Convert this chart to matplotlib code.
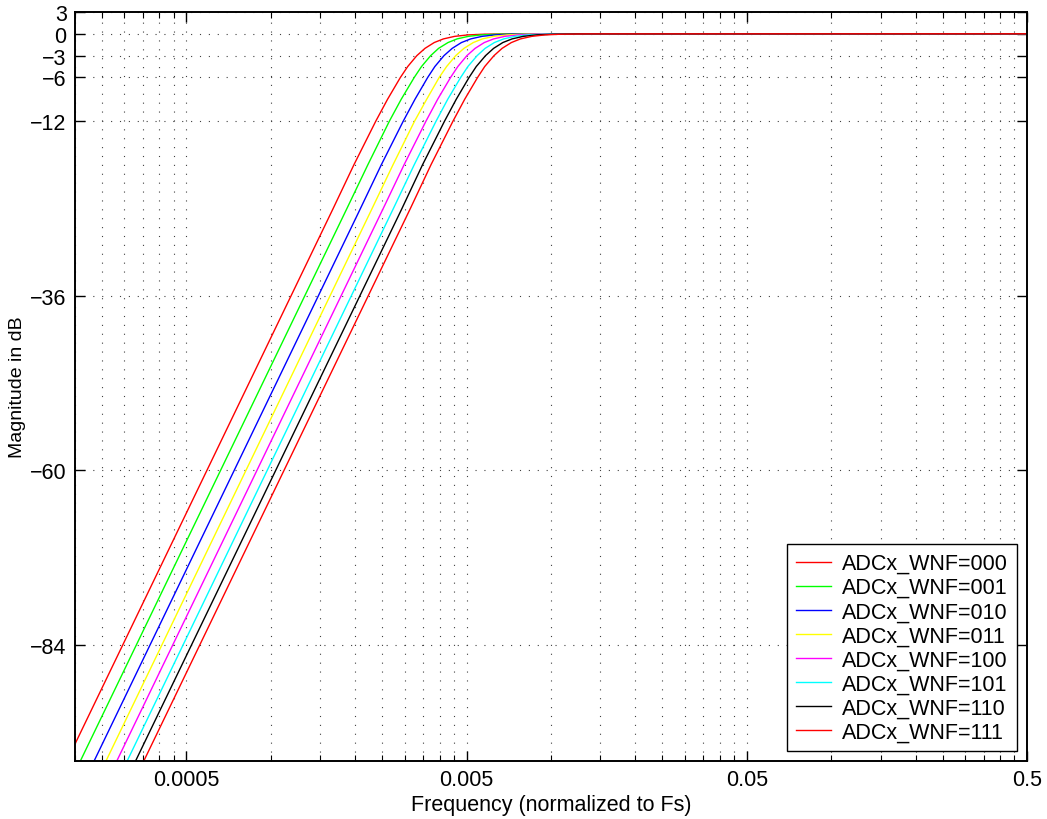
import numpy as np
import matplotlib.pyplot as plt
from matplotlib.ticker import FixedLocator, NullFormatter

plt.rcParams['font.family'] = ['Liberation Sans', 'DejaVu Sans']

levels_db = [-100, -24, -18, -12, -9, -6, -4.5, -3, -2, -1.2, -0.7, -0.35, -0.15, -0.05, -0.01, 0]

# frequency (normalized to Fs) at which each curve crosses the levels above
freq_000 = [0.000187, 0.00167, 0.00198, 0.00237, 0.00261, 0.00290, 0.00308, 0.00332,
            0.00355, 0.00383, 0.00413, 0.00453, 0.00505, 0.00580, 0.00710, 0.5]
freq_001 = [0.000209, 0.00187, 0.00222, 0.00265, 0.00292, 0.00325, 0.00345, 0.00372,
            0.00397, 0.00429, 0.00462, 0.00507, 0.00565, 0.00649, 0.00795, 0.5]
freq_010 = [0.000234, 0.00209, 0.00248, 0.00297, 0.00327, 0.00363, 0.00385, 0.00415,
            0.00444, 0.00479, 0.00517, 0.00567, 0.00632, 0.00726, 0.00888, 0.5]
freq_011 = [0.000258, 0.00230, 0.00273, 0.00326, 0.00360, 0.00399, 0.00424, 0.00457,
            0.00489, 0.00528, 0.00569, 0.00624, 0.00696, 0.00799, 0.00978, 0.5]
freq_100 = [0.000282, 0.00252, 0.00299, 0.00358, 0.00394, 0.00438, 0.00465, 0.00501,
            0.00536, 0.00578, 0.00624, 0.00684, 0.00763, 0.00876, 0.0107, 0.5]
freq_101 = [0.000307, 0.00274, 0.00325, 0.00389, 0.00428, 0.00476, 0.00505, 0.00545,
            0.00582, 0.00628, 0.00678, 0.00743, 0.00829, 0.00952, 0.0116, 0.5]
freq_110 = [0.000329, 0.00294, 0.00348, 0.00417, 0.00459, 0.00510, 0.00541, 0.00584,
            0.00624, 0.00673, 0.00726, 0.00796, 0.00888, 0.0102, 0.0125, 0.5]
freq_111 = [0.000352, 0.00315, 0.00373, 0.00447, 0.00492, 0.00547, 0.00580, 0.00626,
            0.00669, 0.00722, 0.00778, 0.00854, 0.00952, 0.0109, 0.0134, 0.5]

curves = [freq_000, freq_001, freq_010, freq_011, freq_100, freq_101, freq_110, freq_111]
labels = ['ADCx_WNF=000', 'ADCx_WNF=001', 'ADCx_WNF=010', 'ADCx_WNF=011',
          'ADCx_WNF=100', 'ADCx_WNF=101', 'ADCx_WNF=110', 'ADCx_WNF=111']
colors = ['#ff0000', '#00ff00', '#0000ff', '#ffff00', '#ff00ff', '#00ffff', '#000000', '#ff0000']

xticks = [0.0005, 0.005, 0.05, 0.5]
xtick_labels = ['0.0005', '0.005', '0.05', '0.5']
yticks = [3, 0, -3, -6, -12, -36, -60, -84]

fig = plt.figure(figsize=(10.47, 8.2), dpi=100)
ax = fig.add_axes([75 / 1047, 58 / 820, 952 / 1047, 749 / 820])

for f, lab, c in zip(curves, labels, colors):
    ax.plot(f, levels_db, color=c, lw=1.0, label=lab)

ax.set_xscale('log')
ax.set_xlim(0.0002, 0.5)
ax.set_ylim(-100, 3)

ax.set_xticks(xticks, labels=xtick_labels)
minor = [k * 5 * 10.0 ** e for e in range(-6, 0) for k in range(2, 10)]
minor = [m for m in minor if 0.0002 <= m <= 0.5]
ax.xaxis.set_minor_locator(FixedLocator(minor))
ax.xaxis.set_minor_formatter(NullFormatter())
ax.set_yticks(yticks)

ax.tick_params(which='both', direction='in', top=True, right=True, labelsize=15.5)
ax.tick_params(which='major', length=7, width=1, pad=6)
ax.tick_params(which='minor', length=4, width=0.8)

grid_style = dict(color='0.25', linestyle=(0, (1, 7)), linewidth=0.8)
ax.grid(True, which='major', **grid_style)
ax.xaxis.grid(True, which='minor', **grid_style)

for s in ax.spines.values():
    s.set_linewidth(1.4)

ax.set_xlabel('Frequency (normalized to Fs)', fontsize=15.5, labelpad=3)
ax.set_ylabel('Magnitude in dB', fontsize=14, labelpad=3)

leg = ax.legend(loc='lower right', fontsize=15.5, fancybox=False, framealpha=1,
                edgecolor='black', handlelength=1.6, handletextpad=0.55,
                labelspacing=0.14, borderaxespad=0.45, borderpad=0.42)
leg.get_frame().set_linewidth(1.0)

fig.savefig('out.png', dpi=100)
